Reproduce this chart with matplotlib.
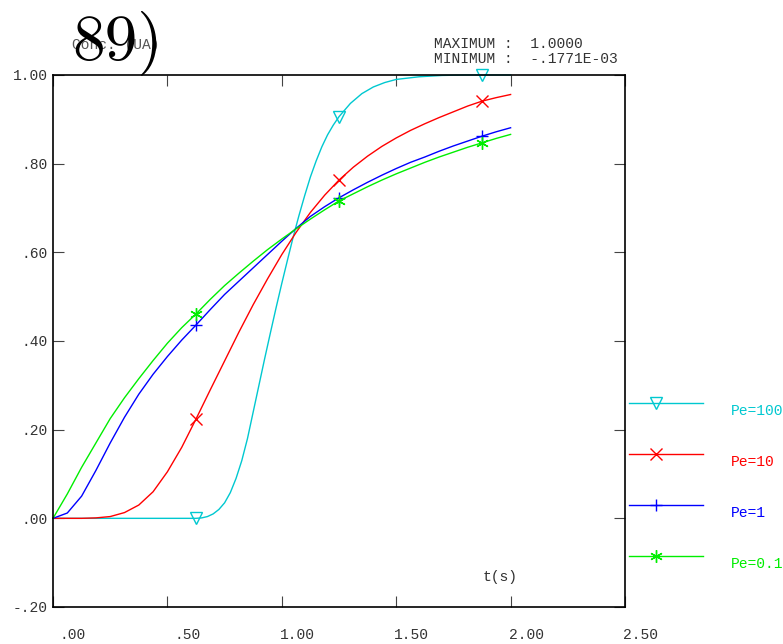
import numpy as np
import matplotlib.pyplot as plt
from matplotlib.lines import Line2D
from matplotlib.transforms import ScaledTranslation

# values
t = np.arange(33) * 0.0625          # 0 .. 2.0

# steep Pe=100 curve, read on its own (denser) set of times
t100 = [0, 0.5, 0.625, 0.65, 0.675, 0.7, 0.725, 0.75, 0.775, 0.8, 0.825,
        0.85, 0.875, 0.9, 0.925, 0.95, 0.975, 1.0, 1.025, 1.05, 1.075, 1.1,
        1.125, 1.15, 1.175, 1.2, 1.225, 1.25, 1.3, 1.35, 1.4, 1.45, 1.5,
        1.6, 1.7, 1.8, 1.875, 2.0]
pe100 = [0, 0, 0.0, 0.001, 0.004, 0.01, 0.02, 0.035, 0.058, 0.09, 0.13,
         0.18, 0.24, 0.30, 0.36, 0.418, 0.475, 0.53, 0.583, 0.635, 0.683,
         0.728, 0.77, 0.806, 0.838, 0.865, 0.887, 0.906, 0.936, 0.958,
         0.973, 0.983, 0.99, 0.996, 0.999, 1.0, 1.0, 1.0]
pe10 = [0, 0, 0, 0.001, 0.004, 0.013, 0.03, 0.06, 0.105, 0.16, 0.224,
        0.29, 0.355, 0.42, 0.482, 0.54, 0.595, 0.645, 0.69, 0.729, 0.763,
        0.792, 0.817, 0.839, 0.858, 0.875, 0.89, 0.904, 0.917, 0.93, 0.941,
        0.949, 0.956]
pe1 = [0, 0.012, 0.05, 0.108, 0.17, 0.228, 0.28, 0.325, 0.365, 0.402,
       0.436, 0.471, 0.505, 0.535, 0.565, 0.595, 0.625, 0.654, 0.681,
       0.703, 0.723, 0.741, 0.758, 0.774, 0.789, 0.803, 0.815, 0.828, 0.84,
       0.851, 0.862, 0.872, 0.881]
pe01 = [0, 0.055, 0.115, 0.17, 0.225, 0.272, 0.315, 0.356, 0.395, 0.43,
        0.461, 0.494, 0.525, 0.553, 0.58, 0.606, 0.63, 0.653, 0.675, 0.696,
        0.716, 0.732, 0.748, 0.763, 0.777, 0.79, 0.803, 0.815, 0.826,
        0.837, 0.847, 0.857, 0.866]

labels = ['Pe=100', 'Pe=10', 'Pe=1', 'Pe=0.1']
colors = ['#00c8d0', '#ff0000', '#0000ff', '#00ee00']
markers = ['v', 'x', '+', (6, 2, 0)]
mark_t = [0.625, 1.25, 1.875]
xticks = [0, 0.5, 1.0, 1.5, 2.0, 2.5]
xticklabels = ['.00', '.50', '1.00', '1.50', '2.00', '2.50']
yticks = [-0.2, 0, 0.2, 0.4, 0.6, 0.8, 1.0]
yticklabels = ['-.20', '.00', '.20', '.40', '.60', '.80', '1.00']

mono = 'Liberation Mono'
fig = plt.figure(figsize=(7.83, 6.44), dpi=100)
ax = fig.add_axes([53/783, 37/644, 572/783, 532/644])

series = [(t100, pe100), (t, pe10), (t, pe1), (t, pe01)]
for (x, y), c, m in zip(series, colors, markers):
    idx = [int(np.argmin(np.abs(np.asarray(x) - v))) for v in mark_t]
    mfc = 'none' if m == 'v' else c
    ax.plot(x, y, color=c, lw=1.0, marker=m, markevery=idx,
            ms=9, mfc=mfc, mec=c, mew=1.0, clip_on=False)

ax.set_xlim(0, 2.5)
ax.set_ylim(-0.2, 1.0)
ax.set_xticks(xticks)
ax.set_xticklabels(xticklabels, fontfamily=mono, fontsize=10.5)
ax.set_yticks(yticks)
ax.set_yticklabels(yticklabels, fontfamily=mono, fontsize=10.5)
ax.tick_params(direction='in', top=True, right=True, length=8,
               color='#444444', labelcolor='#333333')
ax.tick_params(axis='x', pad=15)
ax.tick_params(axis='y', pad=4)
for lab in ax.get_xticklabels():
    lab.set_ha('right')
    lab.set_transform(lab.get_transform() +
                      ScaledTranslation(0.33, 0, fig.dpi_scale_trans))
for s in ax.spines.values():
    s.set_linewidth(1.2)

# legend drawn outside the frame, on the right
for i, (lab, c, m) in enumerate(zip(labels, colors, markers)):
    yl = 1 - (403 + 51 * i) / 644
    fig.add_artist(Line2D([629/783, 703/783], [yl, yl], color=c, lw=1.0,
                          transform=fig.transFigure))
    mfc = 'none' if m == 'v' else c
    fig.add_artist(Line2D([656/783], [yl], marker=m, ms=9, mfc=mfc,
                          mec=c, mew=1.0, transform=fig.transFigure))
    fig.text(731/783, yl - 8/644, lab, color=c, fontfamily=mono,
             fontsize=10.5, va='center', ha='left')

fig.text(72/783, 1 - 45/644, 'Conc. (UA)', fontfamily=mono, fontsize=10.5,
         color='#555555', va='center')
fig.text(118/783, 1 - 43/644, '89)', fontfamily='cmr10', fontsize=47,
         ha='center', va='center')
fig.text(434/783, 1 - 44/644, 'MAXIMUM :  1.0000', fontfamily=mono,
         fontsize=10.5, color='#333333', va='center')
fig.text(434/783, 1 - 59/644, 'MINIMUM :  -.1771E-03', fontfamily=mono,
         fontsize=10.5, color='#333333', va='center')
fig.text(500/783, 1 - 577/644, 't(s)', fontfamily=mono, fontsize=10.5,
         color='#333333', ha='center', va='center')

fig.savefig('out.png', dpi=100)
